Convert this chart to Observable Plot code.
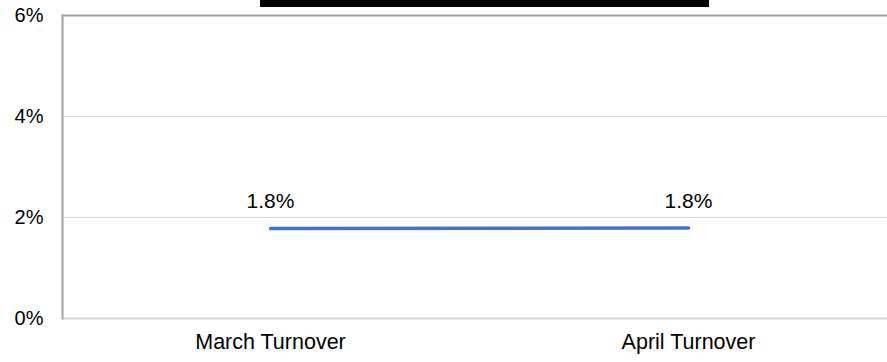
<!DOCTYPE html>
<html>
<head>
<meta charset="utf-8">
<script src="https://cdn.jsdelivr.net/npm/d3@7"></script>
<script src="https://cdn.jsdelivr.net/npm/@observablehq/plot@0.6"></script>
<style>
  html, body { margin: 0; padding: 0; background: #fff; overflow: hidden; }
  #wrap { position: relative; width: 887px; height: 362px; font-family: "Liberation Sans", Arial, sans-serif; }
  #title { position: absolute; left: 260px; top: -30px; width: 449px; height: 37px; background: #000; color: #fff;
           font: bold 24px "Liberation Sans", Arial, sans-serif; text-align: center; line-height: 30px; white-space: nowrap; overflow: hidden; z-index: 2; }
  #chart { position: absolute; left: 0; top: 0; }
</style>
</head>
<body>
<div id="wrap">
  <div id="title">Turnover, Month-over-Month Tracking</div>
  <div id="chart"></div>
</div>
<script>
const categories = ["March Turnover", "April Turnover"];
const values = [1.78, 1.79];
const valueLabels = ["1.8%", "1.8%"];
const yTicks = [0, 2, 4, 6];
const yTickLabels = ["0%", "2%", "4%", "6%"];

const data = categories.map((c, i) => ({category: c, value: values[i], label: valueLabels[i]}));

const chart = Plot.plot({
  width: 887,
  height: 362,
  marginTop: 15,
  marginBottom: 44,
  marginLeft: 62,
  marginRight: 0,
  style: {fontFamily: "'Liberation Sans', Arial, sans-serif", fontSize: "20px", color: "#000", background: "#fff"},
  x: {type: "band", domain: categories, range: [61, 897], padding: 0, label: null},
  y: {domain: [0, 6], label: null},
  marks: [
    Plot.ruleY(yTicks.slice(1, -1), {stroke: "#d9d9d9", strokeWidth: 1, strokeOpacity: 1}),
    Plot.ruleY([0], {stroke: "#d9d9d9", strokeWidth: 2, strokeOpacity: 1}),
    Plot.ruleY([6], {stroke: "#a0a0a0", strokeWidth: 2, strokeOpacity: 1}),
    Plot.frame({anchor: "left", stroke: "#a0a0a0", strokeWidth: 2, strokeOpacity: 1}),
    Plot.axisY({ticks: yTicks, tickFormat: (d) => yTickLabels[yTicks.indexOf(d)], tickSize: 0, tickPadding: 19, fontSize: 20, label: null}),
    Plot.axisX({tickSize: 0, tickPadding: 15, fontSize: 21.5, label: null}),
    Plot.line(data, {x: "category", y: "value", stroke: "#4472c4", strokeWidth: 3.5, strokeLinecap: "round"}),
    Plot.text(data, {x: "category", y: "value", text: "label", dy: -27, fontSize: 21, fill: "#000"})
  ]
});
document.getElementById("chart").appendChild(chart);
</script>
</body>
</html>
